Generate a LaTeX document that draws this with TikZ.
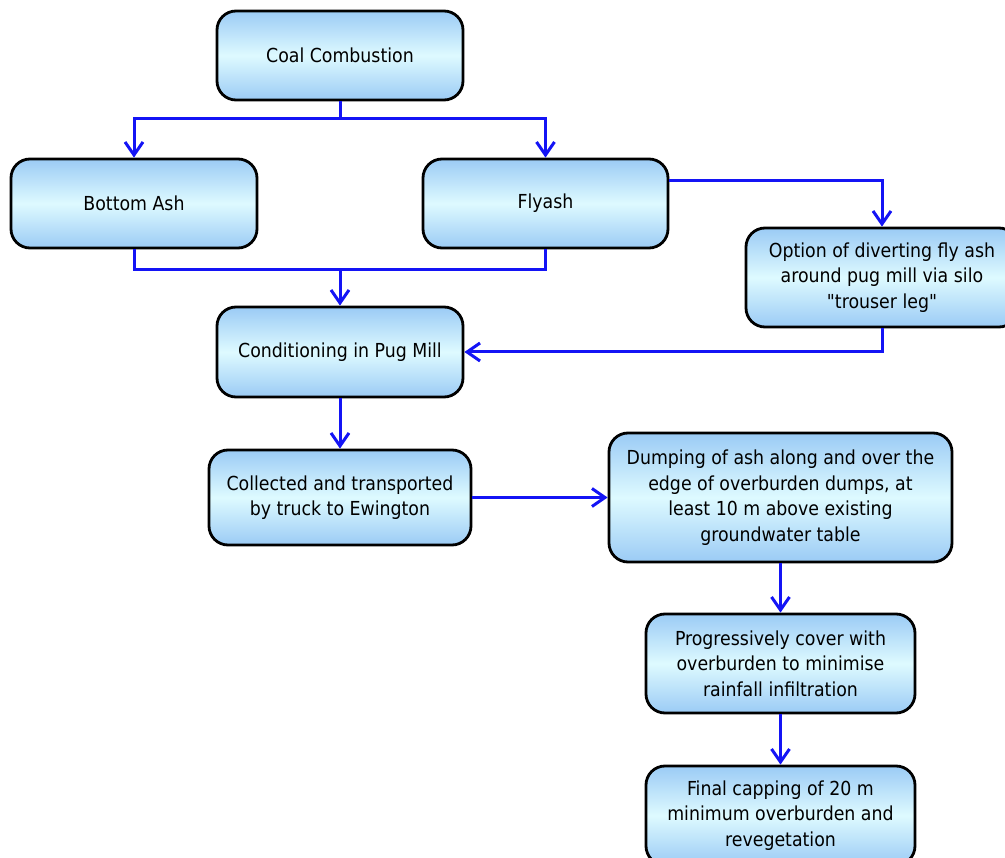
\documentclass[tikz,border=0pt]{standalone}
\usepackage{fontspec}
\setmainfont{DejaVu Sans Condensed}[Ligatures=TeXOff]
\usetikzlibrary{arrows.meta}
\definecolor{boxedge}{RGB}{155,203,245}
\definecolor{boxmid}{RGB}{222,250,255}
\definecolor{flowblue}{RGB}{20,20,245}
\begin{document}
\begin{tikzpicture}[x=1pt,y=-1pt,
  procbox/.style={draw=black, line width=2.8pt, rounded corners=19pt,
    top color=boxedge, bottom color=boxedge, middle color=boxmid,
    align=center, font=\fontsize{19.3}{25.5}\selectfont, inner sep=0pt},
  flow/.style={draw=flowblue, line width=3pt},
  flowarr/.style={flow, -{Straight Barb[length=13pt,width=18pt,line width=3pt]}}]
\useasboundingbox (0,0) rectangle (1005,858);
\node[procbox, minimum width=246pt, minimum height=89pt] (coal) at (340,55.5) {Coal Combustion};
\node[procbox, minimum width=246pt, minimum height=89pt] (bottom) at (134,203.5) {Bottom Ash};
\node[procbox, minimum width=245pt, minimum height=89pt] (fly) at (545.5,203.5) {Flyash};
\node[procbox, minimum width=272pt, minimum height=99pt] (option) at (882,277.5) {Option of diverting fly ash\\around pug mill via silo\\"trouser leg"};
\node[procbox, minimum width=246pt, minimum height=90pt] (cond) at (340,352) {Conditioning in Pug Mill};
\node[procbox, minimum width=262pt, minimum height=95pt] (coll) at (340,497.5) {Collected and transported\\by truck to Ewington};
\node[procbox, minimum width=343pt, minimum height=129pt] (dump) at (780.5,497.5) {Dumping of ash along and over the\\edge of overburden dumps, at\\least 10 m above existing\\groundwater table};
\node[procbox, minimum width=269pt, minimum height=99pt] (prog) at (780.5,663.5) {Progressively cover with\\overburden to minimise\\rainfall infiltration};
\node[procbox, minimum width=269pt, minimum height=99pt] (final) at (780.5,815.5) {Final capping of 20 m\\minimum overburden and\\revegetation};
\coordinate (j1) at (340,119);
\coordinate (j2) at (340,270);
\draw[flow] (coal.south) -- (j1);
\draw[flowarr] (j1) -| (bottom.north);
\draw[flowarr] (j1) -| (fly.north);
\draw[flow] (bottom.south) |- (j2);
\draw[flow] (fly.south) |- (j2);
\draw[flowarr] (j2) -- (cond.north);
\draw[flowarr] ([yshift=22.5pt]fly.east) -| (option.north);
\draw[flowarr] (option.south) |- (cond.east);
\draw[flowarr] (cond.south) -- (coll.north);
\draw[flowarr] (coll.east) -- (dump.west);
\draw[flowarr] (dump.south) -- (prog.north);
\draw[flowarr] (prog.south) -- (final.north);
\end{tikzpicture}
\end{document}
